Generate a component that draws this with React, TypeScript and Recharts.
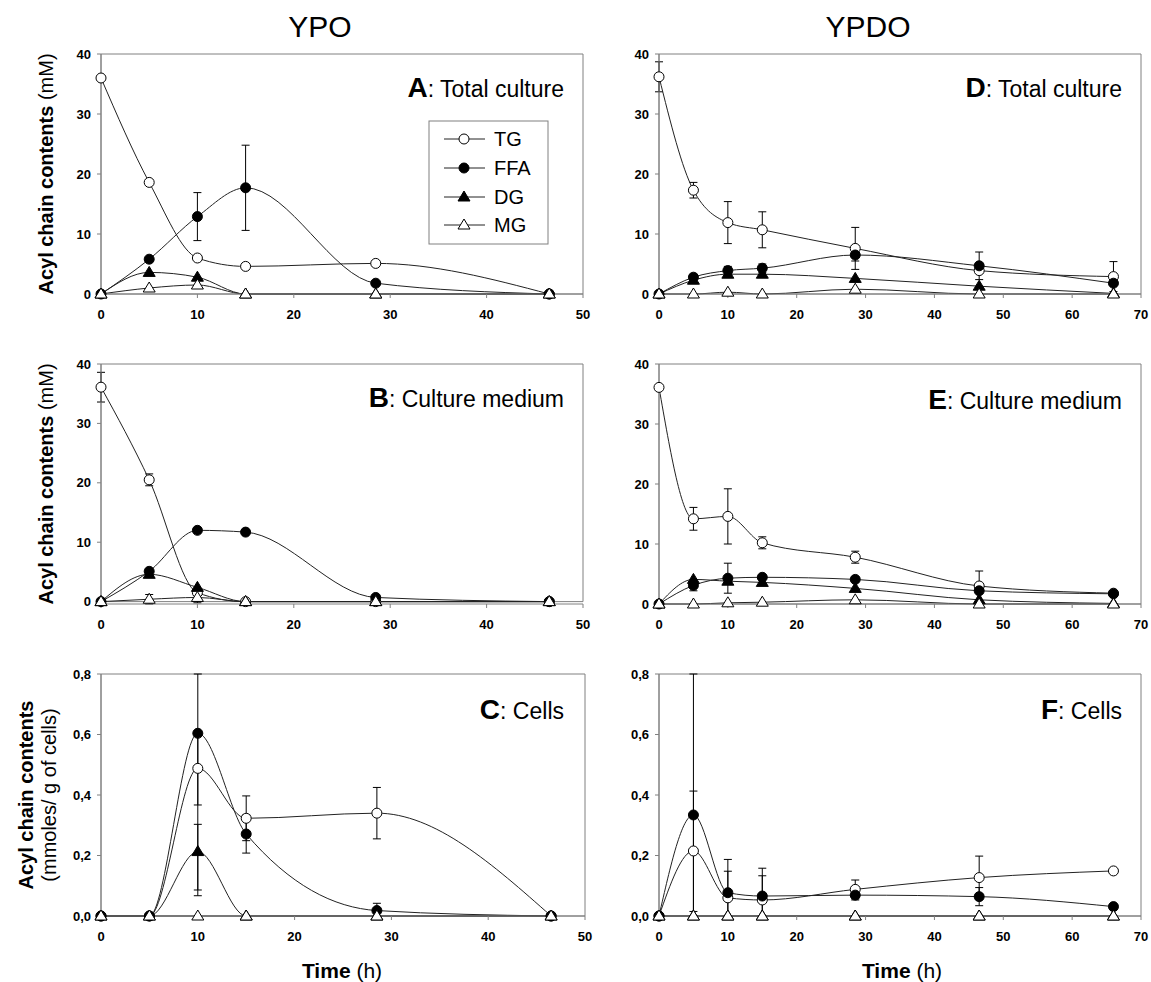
import React from 'react';
import { LineChart, Line, XAxis, YAxis, ErrorBar, ReferenceArea } from 'recharts';

const FONT = '"Liberation Sans", Arial, Helvetica, sans-serif';
const GRAY = '#808080';

// ---------- shared axes ----------
const T_YPO = [0, 5, 10, 15, 28.5, 46.5];
const T_YPDO = [0, 5, 10, 15, 28.5, 46.5, 66];
const X_TICKS_YPO = [0, 10, 20, 30, 40, 50];
const X_TICKS_YPDO = [0, 10, 20, 30, 40, 50, 60, 70];
const Y_TICKS_MM = [0, 10, 20, 30, 40];
const Y_TICKS_CELLS = [0, 0.2, 0.4, 0.6, 0.8];
const SERIES = ['TG', 'FFA', 'DG', 'MG'];

type Err = number | [number, number] | null;

// ---------- A: YPO total culture (mM) ----------
const A_TG = [36, 18.6, 6.0, 4.6, 5.1, 0];
const A_FFA = [0, 5.8, 12.9, 17.7, 1.8, 0];
const A_DG = [0, 3.6, 2.8, 0, 0, 0];
const A_MG = [0, 1.0, 1.5, 0, 0, 0];
const A_TG_ERR: Err[] = [null, null, null, null, null, null];
const A_FFA_ERR: Err[] = [null, null, 4.0, 7.1, null, null];

// ---------- B: YPO culture medium (mM) ----------
const B_TG = [36.1, 20.5, 1.5, 0, 0, 0];
const B_FFA = [0, 5.1, 12.0, 11.7, 0.7, 0];
const B_DG = [0, 4.6, 2.4, 0, 0, 0];
const B_MG = [0, 0.4, 0.7, 0, 0, 0];
const B_TG_ERR: Err[] = [2.5, 1.0, null, null, null, null];
const B_MG_ERR: Err[] = [null, 0.8, 0.9, null, null, null];

// ---------- C: YPO cells (mmoles/g) ----------
const C_TG = [0, 0, 0.488, 0.323, 0.34, 0];
const C_FFA = [0, 0, 0.604, 0.271, 0.018, 0];
const C_DG = [0, 0, 0.213, 0, 0, 0];
const C_MG = [0, 0, 0, 0, 0, 0];
const C_TG_ERR: Err[] = [null, null, 0.121, 0.074, 0.085, null];
const C_FFA_ERR: Err[] = [null, null, [0.537, 0.196], 0.063, [0.018, 0.024], null];
const C_DG_ERR: Err[] = [null, null, [0.127, 0.09], null, null, null];

// ---------- D: YPDO total culture (mM) ----------
const D_TG = [36.2, 17.3, 11.9, 10.7, 7.6, 3.9, 2.9];
const D_FFA = [0, 2.8, 3.9, 4.3, 6.5, 4.7, 1.8];
const D_DG = [0, 2.3, 3.3, 3.3, 2.6, 1.3, 0.1];
const D_MG = [0, 0, 0.3, 0, 0.8, 0, 0];
const D_TG_ERR: Err[] = [2.5, 1.3, 3.5, 3.0, 3.5, null, 2.5];
const D_FFA_ERR: Err[] = [null, 0.5, 0.7, 0.7, 1.0, 2.3, null];

// ---------- E: YPDO culture medium (mM) ----------
const E_TG = [36.1, 14.2, 14.6, 10.2, 7.8, 3.0, 1.8];
const E_FFA = [0, 3.1, 4.3, 4.45, 4.1, 2.2, 1.7];
const E_DG = [0, 4.1, 3.8, 3.6, 2.6, 0.7, 0.1];
const E_MG = [0, 0, 0.2, 0.3, 0.7, 0, 0];
const E_TG_ERR: Err[] = [null, 1.9, 4.6, 1.0, 1.0, 2.5, null];
const E_FFA_ERR: Err[] = [null, 0.9, 2.5, null, null, null, null];

// ---------- F: YPDO cells (mmoles/g) ----------
const F_TG = [0, 0.215, 0.06, 0.053, 0.088, 0.127, 0.149];
const F_FFA = [0, 0.334, 0.077, 0.066, 0.069, 0.064, 0.031];
const F_DG = [0, 0, 0, 0, 0, 0, 0];
const F_MG = [0, 0, 0, 0, 0, 0, 0];
const F_TG_ERR: Err[] = [null, [0.2, 0.198], [0.06, 0.088], [0.053, 0.08], 0.031, 0.071, null];
const F_FFA_ERR: Err[] = [null, [0.334, 0.466], [0.077, 0.11], [0.066, 0.092], 0.016, 0.03, null];

function buildRows(
  times: number[],
  vals: Record<string, number[]>,
  errs: Record<string, Err[]>
) {
  return times.map((t, i) => {
    const row: any = { t };
    SERIES.forEach((k) => {
      row[k] = vals[k][i];
      const e = errs[k] ? errs[k][i] : null;
      if (e != null) row[k + '_e'] = e;
    });
    return row;
  });
}

const DATA_A = buildRows(T_YPO, { TG: A_TG, FFA: A_FFA, DG: A_DG, MG: A_MG }, { TG: A_TG_ERR, FFA: A_FFA_ERR });
const DATA_B = buildRows(T_YPO, { TG: B_TG, FFA: B_FFA, DG: B_DG, MG: B_MG }, { TG: B_TG_ERR, MG: B_MG_ERR });
const DATA_C = buildRows(T_YPO, { TG: C_TG, FFA: C_FFA, DG: C_DG, MG: C_MG }, { TG: C_TG_ERR, FFA: C_FFA_ERR, DG: C_DG_ERR });
const DATA_D = buildRows(T_YPDO, { TG: D_TG, FFA: D_FFA, DG: D_DG, MG: D_MG }, { TG: D_TG_ERR, FFA: D_FFA_ERR });
const DATA_E = buildRows(T_YPDO, { TG: E_TG, FFA: E_FFA, DG: E_DG, MG: E_MG }, { TG: E_TG_ERR, FFA: E_FFA_ERR });
const DATA_F = buildRows(T_YPDO, { TG: F_TG, FFA: F_FFA, DG: F_DG, MG: F_MG }, { TG: F_TG_ERR, FFA: F_FFA_ERR });

function markerShape(kind: string, cx: number, cy: number, key?: any) {
  if (kind === 'TG' || kind === 'FFA') {
    return (
      <circle key={key} cx={cx} cy={cy} r={5} fill={kind === 'TG' ? '#fff' : '#000'} stroke="#000" strokeWidth={1} />
    );
  }
  const pts = `${cx},${cy - 6} ${cx + 6},${cy + 4} ${cx - 6},${cy + 4}`;
  return <polygon key={key} points={pts} fill={kind === 'DG' ? '#000' : '#fff'} stroke="#000" strokeWidth={1} />;
}

const makeDot = (kind: string) => (props: any) => {
  const { cx, cy, index } = props;
  if (cx == null || cy == null) return <g key={'n' + index} />;
  return markerShape(kind, cx, cy, kind + '-' + index);
};

const Y_W = 50;
const X_H = 40;

type PanelProps = {
  left: number;
  top: number;
  width: number;
  height: number;
  x0: number;
  x1: number;
  y0: number;
  y1: number;
  data: any[];
  xDomain: [number, number];
  xTicks: number[];
  yDomain: [number, number];
  yTicks: number[];
  yFmt: (v: number) => string;
};

function Panel(p: PanelProps) {
  const margin = {
    left: p.x0 - p.left - Y_W,
    top: p.y0 - p.top,
    right: p.left + p.width - p.x1,
    bottom: p.top + p.height - p.y1 - X_H,
  };
  const tickStyle = { fontSize: 13, fontWeight: 700, fill: '#000', fontFamily: FONT };
  return (
    <div style={{ position: 'absolute', left: p.left, top: p.top }}>
      <LineChart width={p.width} height={p.height} data={p.data} margin={margin}>
        <XAxis
          type="number"
          dataKey="t"
          domain={p.xDomain}
          ticks={p.xTicks}
          interval={0}
          tickSize={4}
          tickMargin={12}
          height={X_H}
          axisLine={{ stroke: GRAY }}
          tickLine={{ stroke: GRAY }}
          tick={tickStyle}
        />
        <YAxis
          type="number"
          domain={p.yDomain}
          ticks={p.yTicks}
          interval={0}
          tickSize={4}
          tickMargin={6}
          width={Y_W}
          axisLine={{ stroke: GRAY }}
          tickLine={{ stroke: GRAY }}
          tick={tickStyle}
          tickFormatter={p.yFmt}
        />
        <ReferenceArea
          x1={p.xDomain[0]}
          x2={p.xDomain[1]}
          y1={p.yDomain[0]}
          y2={p.yDomain[1]}
          fill="none"
          fillOpacity={0}
          stroke={GRAY}
          strokeWidth={1}
        />
        {SERIES.map((k) => (
          <Line
            key={k}
            dataKey={k}
            type="monotone"
            stroke="#222"
            strokeWidth={1}
            dot={makeDot(k)}
            activeDot={false}
            isAnimationActive={false}
          >
            <ErrorBar dataKey={k + '_e'} width={4} stroke="#000" strokeWidth={1} direction="y" />
          </Line>
        ))}
      </LineChart>
    </div>
  );
}

const fmtMM = (v: number) => String(v);
const fmtCells = (v: number) => v.toFixed(1).replace('.', ',');

const LEGEND_Y = [139, 168, 197, 225];

export default function App() {
  return (
    <div style={{ position: 'absolute', left: 0, top: 0, width: 1151, height: 982, background: '#fff', fontFamily: FONT }}>
      <Panel left={0} top={40} width={610} height={300} x0={101} x1={583} y0={54} y1={294}
        data={DATA_A} xDomain={[0, 50]} xTicks={X_TICKS_YPO} yDomain={[0, 40]} yTicks={Y_TICKS_MM} yFmt={fmtMM} />
      <Panel left={0} top={350} width={610} height={300} x0={101} x1={583} y0={364} y1={604}
        data={DATA_B} xDomain={[0, 50]} xTicks={X_TICKS_YPO} yDomain={[0, 40]} yTicks={Y_TICKS_MM} yFmt={fmtMM} />
      <Panel left={0} top={660} width={610} height={300} x0={101} x1={585} y0={674} y1={916}
        data={DATA_C} xDomain={[0, 50]} xTicks={X_TICKS_YPO} yDomain={[0, 0.8]} yTicks={Y_TICKS_CELLS} yFmt={fmtCells} />
      <Panel left={590} top={40} width={561} height={300} x0={659} x1={1141} y0={54} y1={294}
        data={DATA_D} xDomain={[0, 70]} xTicks={X_TICKS_YPDO} yDomain={[0, 40]} yTicks={Y_TICKS_MM} yFmt={fmtMM} />
      <Panel left={590} top={350} width={561} height={300} x0={659} x1={1141} y0={364} y1={604}
        data={DATA_E} xDomain={[0, 70]} xTicks={X_TICKS_YPDO} yDomain={[0, 40]} yTicks={Y_TICKS_MM} yFmt={fmtMM} />
      <Panel left={590} top={660} width={561} height={300} x0={659} x1={1141} y0={674} y1={916}
        data={DATA_F} xDomain={[0, 70]} xTicks={X_TICKS_YPDO} yDomain={[0, 0.8]} yTicks={Y_TICKS_CELLS} yFmt={fmtCells} />

      <svg width={1151} height={982} style={{ position: 'absolute', left: 0, top: 0, pointerEvents: 'none' }}
        fontFamily={FONT}>
        <text x={320} y={37} textAnchor="middle" fontSize={30} fill="#000">YPO</text>
        <text x={868} y={37} textAnchor="middle" fontSize={30} fill="#000">YPDO</text>

        <text x={564} y={97} textAnchor="end" fill="#000">
          <tspan fontSize={28} fontWeight={700}>A</tspan>
          <tspan fontSize={23}>: Total culture</tspan>
        </text>
        <text x={564} y={407} textAnchor="end" fill="#000">
          <tspan fontSize={28} fontWeight={700}>B</tspan>
          <tspan fontSize={23}>: Culture medium</tspan>
        </text>
        <text x={564} y={719} textAnchor="end" fill="#000">
          <tspan fontSize={28} fontWeight={700}>C</tspan>
          <tspan fontSize={23}>: Cells</tspan>
        </text>
        <text x={1122} y={97} textAnchor="end" fill="#000">
          <tspan fontSize={28} fontWeight={700}>D</tspan>
          <tspan fontSize={23}>: Total culture</tspan>
        </text>
        <text x={1122} y={409} textAnchor="end" fill="#000">
          <tspan fontSize={28} fontWeight={700}>E</tspan>
          <tspan fontSize={23}>: Culture medium</tspan>
        </text>
        <text x={1122} y={719} textAnchor="end" fill="#000">
          <tspan fontSize={28} fontWeight={700}>F</tspan>
          <tspan fontSize={23}>: Cells</tspan>
        </text>

        <text transform="translate(46,174) rotate(-90)" textAnchor="middle" dominantBaseline="central" fontSize={20} fill="#000">
          <tspan fontWeight={700}>Acyl chain contents</tspan>
          <tspan> (mM)</tspan>
        </text>
        <text transform="translate(46,484) rotate(-90)" textAnchor="middle" dominantBaseline="central" fontSize={20} fill="#000">
          <tspan fontWeight={700}>Acyl chain contents</tspan>
          <tspan> (mM)</tspan>
        </text>
        <text transform="translate(26,795) rotate(-90)" textAnchor="middle" dominantBaseline="central" fontSize={20} fontWeight={700} fill="#000">
          Acyl chain contents
        </text>
        <text transform="translate(49,795) rotate(-90)" textAnchor="middle" dominantBaseline="central" fontSize={20} fill="#000">
          (mmoles/ g of cells)
        </text>

        <text x={342} y={978} textAnchor="middle" fontSize={21} fill="#000">
          <tspan fontWeight={700}>Time</tspan>
          <tspan> (h)</tspan>
        </text>
        <text x={902} y={978} textAnchor="middle" fontSize={21} fill="#000">
          <tspan fontWeight={700}>Time</tspan>
          <tspan> (h)</tspan>
        </text>

        <rect x={429} y={121} width={119} height={123} fill="#fff" stroke={GRAY} strokeWidth={1} />
        {SERIES.map((k, i) => (
          <g key={k}>
            <line x1={444} x2={485} y1={LEGEND_Y[i]} y2={LEGEND_Y[i]} stroke="#222" strokeWidth={1} />
            {markerShape(k, 464, LEGEND_Y[i])}
            <text x={494} y={LEGEND_Y[i] + 7} fontSize={20} fill="#000">{k}</text>
          </g>
        ))}
      </svg>
    </div>
  );
}
